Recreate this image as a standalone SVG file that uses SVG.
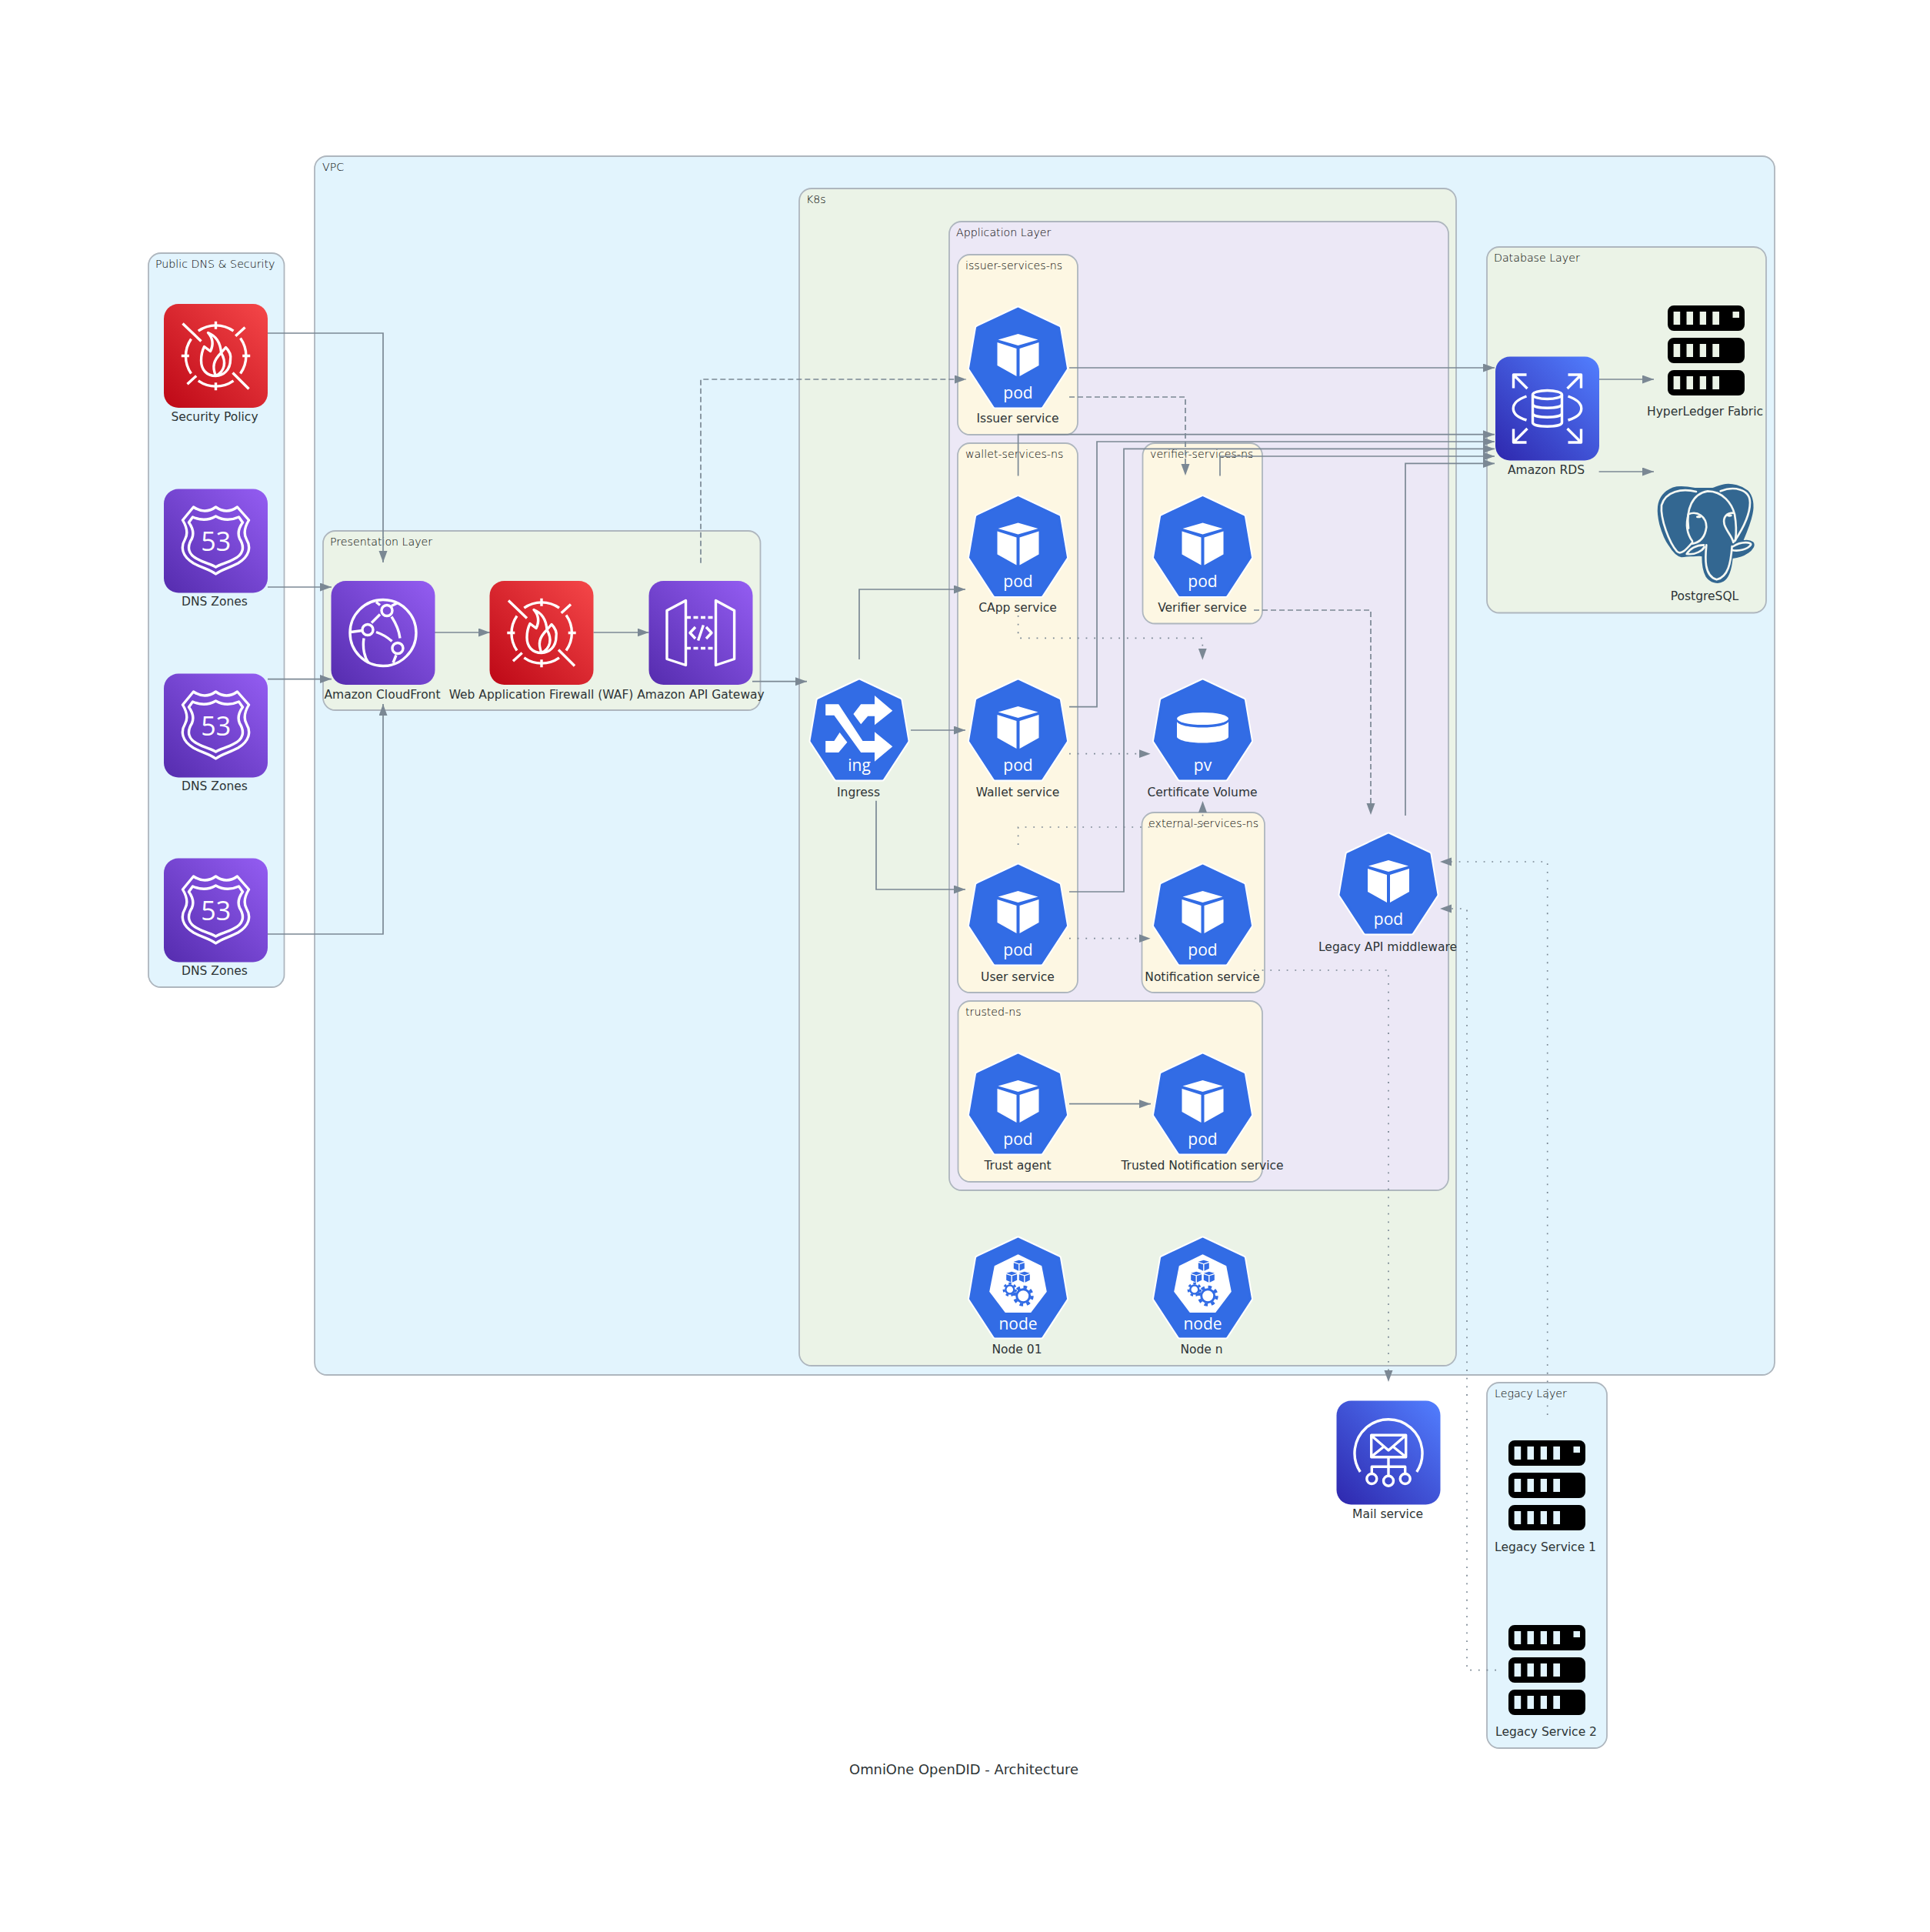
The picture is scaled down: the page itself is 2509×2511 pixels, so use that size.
<svg xmlns="http://www.w3.org/2000/svg" xmlns:xlink="http://www.w3.org/1999/xlink" width="2509" height="2511" viewBox="0 0 2509 2511">
<style>
.cl{stroke:#aeb6be;stroke-width:1.8}
.vpc{fill:#e2f4fd}.grn{fill:#ebf3e7}.pur{fill:#ece8f6}.yel{fill:#fdf7e3}
text{font-family:"DejaVu Sans","Liberation Sans",sans-serif;fill:#2d3436}
.gl{font-size:14.200px;font-weight:200;fill:#000}
.lbl{font-size:15.500px;text-anchor:middle}
.title{font-size:17.900px;text-anchor:middle}
.k{font-family:"Open Sans","Noto Sans",sans-serif;font-size:21px;fill:#fff;text-anchor:middle}
.n53{font-family:"Open Sans","Noto Sans",sans-serif;font-size:34px;fill:#fff;text-anchor:middle}
.e{fill:none;stroke:#7b8894;stroke-width:1.7;marker-end:url(#a)}
.dash{stroke-dasharray:7 4}
.dot{stroke-dasharray:1.8 8.87}
.w{fill:none;stroke:#fff;stroke-width:3.400;stroke-linejoin:round}
</style>
<defs>
<marker id="a" markerUnits="userSpaceOnUse" markerWidth="16" markerHeight="12" refX="15" refY="5.5" orient="auto"><path d="M0 0L15 5.5L0 11Z" fill="#7b8894"/></marker>
<linearGradient id="gr" x1="0" y1="1" x2="1" y2="0"><stop offset="0" stop-color="#bd0816"/><stop offset="1" stop-color="#f54749"/></linearGradient>
<linearGradient id="gp" x1="0" y1="1" x2="1" y2="0"><stop offset="0" stop-color="#552cae"/><stop offset="1" stop-color="#945df2"/></linearGradient>
<linearGradient id="gb" x1="0" y1="1" x2="1" y2="0"><stop offset="0" stop-color="#2e27ad"/><stop offset="1" stop-color="#527fff"/></linearGradient>
<g id="hept">
<polygon points="0,2 53,27 62,80 30,129 -30,129 -62,80 -53,27" fill="#fff" stroke="#fff" stroke-width="7" stroke-linejoin="round"/>
<polygon points="0,2 53,27 62,80 30,129 -30,129 -62,80 -53,27" fill="#326ce5" stroke="#326ce5" stroke-width="3" stroke-linejoin="round"/>
</g>
<g id="pod"><use href="#hept"/>
<path d="M0 35L26 42.500 0 50-26 42.500ZM2 54L27 46V76L2 90ZM-2 54L-27 46V76L-2 90Z" fill="#fff"/></g>
<path id="mc" d="M0-7L7-5 0-2.500-7-5ZM.7-1.500L7-3.500V4L.7 7ZM-.7-1.500L-7-3.500V4L-.7 7Z" fill="#326ce5"/>
<g id="knode"><use href="#hept"/>
<polygon points="0,22.300 30.700,37.300 37.300,70.700 16.700,98 -16.700,98 -37.300,70.700 -30.700,37.300" fill="#fff"/>
<use href="#mc" x="1.300" y="36.700"/><use href="#mc" x="-8.300" y="51.700"/><use href="#mc" x="8.300" y="51.700"/>
<circle cx="-10.700" cy="68" r="5.500" fill="#fff" stroke="#326ce5" stroke-width="2.500"/>
<circle cx="-10.700" cy="68" r="7.800" fill="none" stroke="#326ce5" stroke-width="2.800" stroke-dasharray="3.500 3.500"/>
<circle cx="6.700" cy="76.300" r="8.500" fill="#fff" stroke="#326ce5" stroke-width="3"/>
<circle cx="6.700" cy="76.300" r="11.500" fill="none" stroke="#326ce5" stroke-width="4" stroke-dasharray="4.500 4.530"/>
</g>
<g id="waf"><rect x="-67.500" y="-67.500" width="135" height="135" rx="19" fill="url(#gr)"/>
<path class="w" d="M-43-42L-19-19M22 22L43 43M25.700-25.700L38-37M-37 36.700L-25.300 26M0-44.700V-34.700M0 44.700V34.700M-44.700 0H-34.700M44.700 0H34.700"/>
<path class="w" d="M-22.700-32.300A39.500 39.500 0 0 1 23-32.300M32-23A39.500 39.500 0 0 1 32 23M23 32.300A39.500 39.500 0 0 1-22.700 32.300M-32 23A39.500 39.500 0 0 1-32-22"/>
<path class="w" d="M0 26C-12 26-19 18-19 6C-19-2-17-8-15-12L-7-6C-3-14-3-22-10-30C0-26 6-18 7-4L13-11C18-6 20 0 19 5C19 18 10 26 0 26ZM0 26C-5 14-3 6 7-4C14 8 12 20 0 26Z"/></g>
<g id="cf"><rect x="-67.500" y="-67.500" width="135" height="135" rx="19" fill="url(#gp)"/>
<circle class="w" r="43"/><circle class="w" cx="5" cy="-29" r="7"/><circle class="w" cx="-20" cy="-4" r="7"/><circle class="w" cx="19" cy="20" r="7"/>
<path class="w" d="M-25 7C-27 20-24 32-19 39M11-21C18-10 21-2 22 7M-9-1C0 2 6 6 11.500 11M-15-13L-4-24M-42-1L-27-3M-9-40L-4-36M11-35L19-39M13 39L17 29"/></g>
<g id="apigw"><rect x="-67.500" y="-67.500" width="135" height="135" rx="19" fill="url(#gp)"/>
<path class="w" d="M-44-29L-19.500-42V42L-44 34ZM19.500-42L43.600-29V34L19.500 42ZM-7-7.500L-14 0-7 7.500M7-7.500L14 0 7 7.500M-3.400 10L3.400-10"/>
<path class="w" d="M-19-20H19M-19 20H19" stroke-dasharray="6 3.500"/></g>
<g id="r53"><rect x="-67.500" y="-67.500" width="135" height="135" rx="19" fill="url(#gp)"/>
<path class="w" d="M-29-44Q-14-34 0-44Q14-34 28-44L43-27C37-17 36-9 40-2C46 8 44 20 29 29C18 35 8 37 0 43C-8 37-18 35-29 29C-44 20-46 8-40-2C-36-9-37-17-43-27Z"/>
<path class="w" d="M-30-31Q-14-24 0-32Q14-24 30-31L35-24C30-17 28-10 31-3C38 8 36 18 23 24C14 29 6 30 0 34C-6 30-14 29-23 24C-36 18-38 8-31-3C-28-10-30-17-35-24Z"/></g>
<g id="rds"><rect x="-67.500" y="-67.500" width="135" height="135" rx="19" fill="url(#gb)"/>
<path class="w" d="M-44-26.500V-44H-27M-44-44L-26-26M44-26.500V-44H27M44-44L26-26M-44 26.500V44H-27M-44 44L-26 26M44 26.500V44H27M44 44L26 26M-27-16C-50-8-50 8-27 15M27-16C50-8 50 8 27 15"/>
<ellipse class="w" cy="-18" rx="19" ry="5.500"/>
<path class="w" d="M-19-18V18C-19 25 19 25 19 18V-18M-19-6C-19 1 19 1 19-6M-19 6C-19 13 19 13 19 6"/></g>
<g id="mailic"><rect x="-67.500" y="-67.500" width="135" height="135" rx="19" fill="url(#gb)"/>
<path class="w" d="M-36.700 25A44 44 0 1 1 36.700 25"/>
<path class="w" d="M-22.300-22.700H22.700V5.700H-22.300ZM-22-22L0-3 22-22M-22 5L-7-7M22 5L7-7M0 5.700V30M-21.700 28V18.300H21.700V28"/>
<circle class="w" cx="-21.700" cy="34" r="6.500"/><circle class="w" cy="36.700" r="6.500"/><circle class="w" cx="21.700" cy="34" r="6.500"/></g>
<path id="row" fill-rule="evenodd" d="M8 0H92a8 8 0 0 1 8 8V25a8 8 0 0 1-8 8H8a8 8 0 0 1-8-8V8a8 8 0 0 1 8-8ZM7.600 8V25H16.200V8ZM24.500 8V25H33V8ZM41.700 8V25H50V8ZM58.300 8V25H67V8Z"/>
<g id="srv"><path fill-rule="evenodd" d="M8 0H92a8 8 0 0 1 8 8V25a8 8 0 0 1-8 8H8a8 8 0 0 1-8-8V8a8 8 0 0 1 8-8ZM7.600 8V25H16.200V8ZM24.500 8V25H33V8ZM41.700 8V25H50V8ZM58.300 8V25H67V8ZM84.500 8V16H93V8Z"/><use href="#row" y="42"/><use href="#row" y="84"/></g>
</defs>
<rect width="2509" height="2511" fill="#fff"/>
<g id="clusters">
<g id="public-dns"><rect class="cl vpc" x="193" y="329" width="176.500" height="954" rx="16"/><text class="gl" x="202" y="348">Public DNS &amp; Security</text></g>
<g id="vpc"><rect class="cl vpc" x="409" y="203" width="1898" height="1584" rx="16"/><text class="gl" x="419" y="222">VPC</text></g>
<g id="presentation"><rect class="cl grn" x="420" y="690" width="568.500" height="233" rx="16"/><text class="gl" x="429" y="709">Presentation Layer</text></g>
<g id="k8s"><rect class="cl grn" x="1039" y="245" width="854" height="1530" rx="16"/><text class="gl" x="1048" y="264">K8s</text></g>
<g id="application"><rect class="cl pur" x="1234" y="288" width="649" height="1259" rx="16"/><text class="gl" x="1243" y="307">Application Layer</text></g>
<g id="issuer-ns"><rect class="cl yel" x="1245" y="331" width="156" height="234" rx="16"/><text class="gl" x="1255" y="350">issuer-services-ns</text></g>
<g id="wallet-ns"><rect class="cl yel" x="1245" y="576" width="156" height="714" rx="16"/><text class="gl" x="1255" y="595">wallet-services-ns</text></g>
<g id="verifier-ns"><rect class="cl yel" x="1485.500" y="576" width="155.500" height="234.500" rx="16"/><text class="gl" x="1495" y="595">verifier-services-ns</text></g>
<g id="external-ns"><rect class="cl yel" x="1484.500" y="1056" width="159.500" height="234" rx="16"/><text class="gl" x="1493" y="1075">external-services-ns</text></g>
<g id="trusted-ns"><rect class="cl yel" x="1245.500" y="1301" width="395.500" height="235" rx="16"/><text class="gl" x="1255" y="1320">trusted-ns</text></g>
<g id="database"><rect class="cl grn" x="1933" y="321" width="363" height="475.500" rx="16"/><text class="gl" x="1942" y="340">Database Layer</text></g>
<g id="legacy"><rect class="cl vpc" x="1933" y="1797" width="156" height="475" rx="16"/><text class="gl" x="1943" y="1816">Legacy Layer</text></g>
</g>
<g id="connectors">
<path class="e" d="M348 433H498V731"/>
<path class="e" d="M348 763H431"/>
<path class="e" d="M348 882.600H431"/>
<path class="e" d="M348 1214H498V915"/>
<path class="e" d="M565 822H637"/>
<path class="e" d="M771.600 822H843.500"/>
<path class="e" d="M978 885.700H1049"/>
<path class="e dash" d="M911 731.700V493H1256"/>
<path class="e" d="M1117 857V766H1255"/>
<path class="e" d="M1184 949H1255"/>
<path class="e" d="M1139 1040.700V1156H1255"/>
<path class="e" d="M1390 478H1943"/>
<path class="e" d="M1323.600 618.500V564.700H1943"/>
<path class="e" d="M1390 918.700H1426V574H1943"/>
<path class="e" d="M1390 1159H1461V583.400H1943"/>
<path class="e" d="M1586 618.500V593H1943"/>
<path class="e" d="M1827 1060V602.400H1943"/>
<path class="e dash" d="M1390 516H1541V618"/>
<path class="e dash" d="M1630 793H1782V1059"/>
<path class="e dot" d="M1323.600 800V829.400H1563.300V857.700"/>
<path class="e dot" d="M1390 979.700H1495.600"/>
<path class="e dot" d="M1323.600 1098V1075H1563.500V1041"/>
<path class="e dot" d="M1390 1219.700H1495.600"/>
<path class="e dot" d="M1630 1261H1805V1796"/>
<path class="e" d="M1390 1434.700H1496"/>
<path class="e" d="M2078.600 493H2150"/>
<path class="e" d="M2078.600 613H2150"/>
<path class="e dot" d="M2011.700 1839V1120H1872"/>
<path class="e dot" d="M1945 2170.700H1907V1181H1872"/>
</g>
<g id="security-policy"><use href="#waf" x="280.500" y="462.500"/><text class="lbl" x="279" y="547">Security Policy</text></g>
<g id="dns-zones-1"><use href="#r53" x="280.500" y="703"/><text class="n53" x="280.700" y="715.500">53</text><text class="lbl" x="279" y="787">DNS Zones</text></g>
<g id="dns-zones-2"><use href="#r53" x="280.500" y="943"/><text class="n53" x="280.700" y="955.500">53</text><text class="lbl" x="279" y="1027">DNS Zones</text></g>
<g id="dns-zones-3"><use href="#r53" x="280.500" y="1183"/><text class="n53" x="280.700" y="1195.500">53</text><text class="lbl" x="279" y="1267">DNS Zones</text></g>
<g id="cloudfront"><use href="#cf" x="498" y="822.500"/><text class="lbl" x="497" y="908">Amazon CloudFront</text></g>
<g id="waf-node"><use href="#waf" x="704" y="822.500"/><text class="lbl" x="703.500" y="908">Web Application Firewall (WAF)</text></g>
<g id="api-gateway"><use href="#apigw" x="911" y="822.500"/><text class="lbl" x="911" y="908">Amazon API Gateway</text></g>
<g id="ingress"><use href="#hept" x="1117" y="883"/>
<path transform="translate(1117 883)" fill="#fff" d="M-43.800 32.300H-26.800L4.500 80H20V68.300L43.300 87.300 20 106.700V95H2.200L-32.600 46.700H-43.800ZM20 32.300H2.200L-7.600 45 2.200 58.300 11.200 47.700H20V59.300L43.300 40.700 20 21ZM-43.800 80H-32.600L-25.400 69-15.600 81.700-26.800 95H-43.800Z"/>
<text class="k" x="1117" y="1001.500">ing</text><text class="lbl" x="1116" y="1035">Ingress</text></g>
<g id="issuer-service"><use href="#pod" x="1323.500" y="399"/><text class="k" x="1323.500" y="517.500">pod</text><text class="lbl" x="1323" y="549">Issuer service</text></g>
<g id="capp-service"><use href="#pod" x="1323.500" y="644.500"/><text class="k" x="1323.500" y="763">pod</text><text class="lbl" x="1323" y="795">CApp service</text></g>
<g id="wallet-service"><use href="#pod" x="1323.500" y="883"/><text class="k" x="1323.500" y="1001.500">pod</text><text class="lbl" x="1323" y="1035">Wallet service</text></g>
<g id="user-service"><use href="#pod" x="1323.500" y="1123"/><text class="k" x="1323.500" y="1241.500">pod</text><text class="lbl" x="1323" y="1275">User service</text></g>
<g id="verifier-service"><use href="#pod" x="1563.500" y="644.500"/><text class="k" x="1563.500" y="763">pod</text><text class="lbl" x="1563" y="795">Verifier service</text></g>
<g id="certificate-volume"><use href="#hept" x="1563.500" y="883"/>
<g transform="translate(1563.500 883)" fill="#fff"><ellipse cy="51" rx="33.500" ry="8"/><path d="M-33.500 55C-28 65 28 65 33.500 55V75C28 85-28 85-33.500 75Z"/></g>
<text class="k" x="1563.500" y="1001.500">pv</text><text class="lbl" x="1563" y="1035">Certificate Volume</text></g>
<g id="notification-service"><use href="#pod" x="1563.500" y="1123"/><text class="k" x="1563.500" y="1241.500">pod</text><text class="lbl" x="1563" y="1275">Notification service</text></g>
<g id="trust-agent"><use href="#pod" x="1323.500" y="1369"/><text class="k" x="1323.500" y="1487.500">pod</text><text class="lbl" x="1323" y="1520">Trust agent</text></g>
<g id="trusted-notification"><use href="#pod" x="1563.500" y="1369"/><text class="k" x="1563.500" y="1487.500">pod</text><text class="lbl" x="1563" y="1520">Trusted Notification service</text></g>
<g id="node-01"><use href="#knode" x="1323.500" y="1608"/><text class="k" x="1323.500" y="1728">node</text><text class="lbl" x="1322" y="1759">Node 01</text></g>
<g id="node-n"><use href="#knode" x="1563.500" y="1608"/><text class="k" x="1563.500" y="1728">node</text><text class="lbl" x="1562" y="1759">Node n</text></g>
<g id="legacy-api"><use href="#pod" x="1805" y="1083"/><text class="k" x="1805" y="1201.500">pod</text><text class="lbl" x="1804" y="1236">Legacy API middleware</text></g>
<g id="amazon-rds"><use href="#rds" x="2011.500" y="531"/><text class="lbl" x="2010" y="616">Amazon RDS</text></g>
<g id="hyperledger"><use href="#srv" x="2168" y="397"/><text class="lbl" x="2216.500" y="540">HyperLedger Fabric</text></g>
<g id="postgresql"><g transform="translate(2150 625) scale(.3333)">
<path d="M160 30C130 24 100 20 75 28C45 40 22 65 18 100C15 130 20 150 25 170C35 205 45 230 60 250C75 275 90 292 108 295C125 295 135 290 145 292C165 292 180 288 190 292C190 325 192 350 205 372C220 395 250 402 270 390C295 375 302 335 305 300C325 298 345 295 365 280C385 268 395 250 385 240C375 232 355 233 345 235C360 200 375 165 382 130C390 95 385 60 365 40C340 20 305 12 280 15C260 17 245 25 230 30Z" fill="#336791" stroke="#336791" stroke-width="6" stroke-linejoin="round"/>
<g fill="none" stroke="#f5f8f3" stroke-width="8" stroke-linecap="round" stroke-linejoin="round">
<path d="M165 42C110 28 45 40 30 95C25 150 60 240 90 275C105 290 125 270 150 240"/>
<path d="M135 185C125 110 150 50 210 40C270 40 305 90 315 130C322 170 322 205 318 232"/>
<path d="M260 40C310 20 375 30 375 85C375 130 345 190 315 235"/>
<path d="M135 130C170 115 205 140 205 180C200 220 180 240 150 245M135 130C125 165 125 200 150 235"/>
<path d="M310 125C285 125 268 140 275 170C285 200 305 215 310 240"/>
<path d="M205 250C200 300 195 370 245 385C290 375 300 320 305 255"/>
<path d="M310 255C340 235 385 238 378 250C365 268 330 275 305 270"/>
<path d="M195 250C165 250 140 265 128 285C165 290 190 270 197 258"/>
</g>
<ellipse cx="175" cy="140" rx="10" ry="5" fill="#f5f8f3"/><ellipse cx="295" cy="135" rx="10" ry="5" fill="#f5f8f3"/></g>
<text class="lbl" x="2216" y="780">PostgreSQL</text></g>
<g id="mail-service"><use href="#mailic" x="1805" y="1888"/><text class="lbl" x="1804" y="1973">Mail service</text></g>
<g id="legacy-service-1"><use href="#srv" x="1961" y="1872"/><text class="lbl" x="2009" y="2016">Legacy Service 1</text></g>
<g id="legacy-service-2"><use href="#srv" x="1961" y="2112"/><text class="lbl" x="2010" y="2256">Legacy Service 2</text></g>
<text class="title" x="1253" y="2306">OmniOne OpenDID - Architecture</text>
</svg>
